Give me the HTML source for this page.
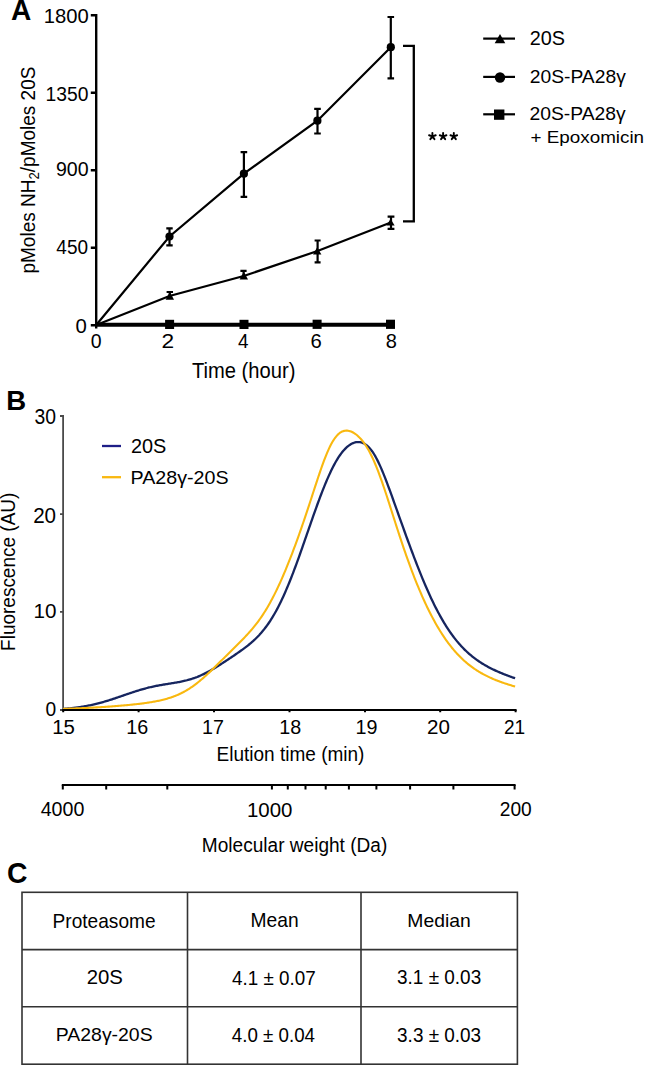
<!DOCTYPE html>
<html><head><meta charset="utf-8">
<style>
html,body{margin:0;padding:0;background:#fff;}
body{width:645px;height:1067px;overflow:hidden;}
svg{display:block;font-family:"Liberation Sans",sans-serif;}
text{font-family:"Liberation Sans",sans-serif;fill:#000;}
</style></head>
<body>
<svg width="645" height="1067" viewBox="0 0 645 1067">

<!-- PANEL A axes -->
<g stroke="#000" stroke-width="2.4" fill="none">
<line x1="96.2" y1="14" x2="96.2" y2="328.5"/>
<path d="M90.8,15.2H96M90.8,92.7H96M90.8,170.2H96M90.8,247.7H96M90.8,325.2H96"/>
<line x1="95" y1="325.2" x2="392" y2="325.2"/>
</g>
<g stroke="#000" stroke-width="2.2" fill="none">
<polyline points="96.2,325 169.5,236.5 243.9,173.7 317.4,120.7 390.8,47.2"/>
<polyline points="96.2,325 169.5,296 243.7,276 317.5,251 390.8,222.5"/>
</g>
<line x1="96.2" y1="324.6" x2="392" y2="324.6" stroke="#000" stroke-width="3.6"/>
<g stroke="#000" stroke-width="2.2" fill="none">
<path d="M169.5,228.4V245.4M166.3,228.4H172.7M166.3,245.4H172.7"/>
<path d="M243.9,152.2V196.9M240.6,152.2H247.2M240.6,196.9H247.2"/>
<path d="M317.5,108.9V133.5M314.2,108.9H320.8M314.2,133.5H320.8"/>
<path d="M390.8,17V78.3M387.5,17H394.1M387.5,78.3H394.1"/>
<path d="M169.8,292V298M166.6,292H173"/>
<path d="M243.6,270.9V278M240.4,270.9H246.6"/>
<path d="M317.6,240.5V262.3M314.6,240.5H320.6M314.6,262.3H320.6"/>
<path d="M391,216.6V228.9M387.6,216.6H394.4M387.6,228.9H394.4"/>
</g>
<g fill="#000">
<circle cx="169.5" cy="236.5" r="4.1"/>
<circle cx="243.9" cy="173.7" r="4.1"/>
<circle cx="317.4" cy="120.7" r="4.1"/>
<circle cx="390.8" cy="47.2" r="4.1"/>
<path d="M169.8,291.8L174,299.8L165.6,299.8Z"/>
<path d="M243.8,271.8L248,279.6L239.6,279.6Z"/>
<path d="M317.2,247.2L321.4,254.4L313,254.4Z"/>
<path d="M390.6,218.8L394.6,225.6L386.6,225.6Z"/>
<rect x="165.1" y="319.8" width="9" height="9.2"/>
<rect x="239.5" y="319.8" width="9" height="9.2"/>
<rect x="312.6" y="319.7" width="9" height="9.2"/>
<rect x="386" y="319.7" width="9" height="9.2"/>
</g>
<path d="M403,45.9H413.8V221.4H403" stroke="#000" stroke-width="2.3" fill="none"/>
<g stroke="#000" stroke-width="1.9" stroke-linecap="round" fill="none"><path d="M432.40,136.35L432.40,132.85M432.40,136.35L435.73,135.27M432.40,136.35L434.46,139.18M432.40,136.35L430.34,139.18M432.40,136.35L429.07,135.27"/><path d="M443.10,136.35L443.10,132.85M443.10,136.35L446.43,135.27M443.10,136.35L445.16,139.18M443.10,136.35L441.04,139.18M443.10,136.35L439.77,135.27"/><path d="M453.80,136.35L453.80,132.85M453.80,136.35L457.13,135.27M453.80,136.35L455.86,139.18M453.80,136.35L451.74,139.18M453.80,136.35L450.47,135.27"/></g>
<g stroke="#000" stroke-width="2.2">
<line x1="483.2" y1="38.6" x2="515" y2="38.6"/>
<line x1="483.2" y1="76.9" x2="515" y2="76.9"/>
<line x1="483.2" y1="114.3" x2="515" y2="114.3"/>
</g>
<g fill="#000">
<path d="M500,34L505.3,43.3L494.7,43.3Z"/>
<circle cx="500" cy="77.5" r="5.2"/>
<rect x="494" y="109.5" width="10.4" height="10.3"/>
</g>
<text id="ylabA" transform="translate(35.1,170.05) rotate(-90) scale(0.95,1)" font-size="20" text-anchor="middle">pMoles NH<tspan font-size="14" dy="4">2</tspan><tspan dy="-4">/pMoles 20S</tspan></text>

<!-- PANEL B -->
<g stroke="#4a4a4a" stroke-width="1.8" fill="none">
<line x1="63.1" y1="415" x2="63.1" y2="710.5"/>
<path d="M60,416H63M60,514.2H63M60,611.8H63M60,710H63"/>
</g>
<path d="M63.1,708.92 L64.1,708.85 L65.1,708.77 L66.1,708.69 L67.1,708.60 L68.1,708.51 L69.1,708.42 L70.1,708.32 L71.1,708.22 L72.1,708.11 L73.1,708.00 L74.1,707.88 L75.1,707.76 L76.1,707.63 L77.1,707.50 L78.1,707.36 L79.1,707.22 L80.1,707.07 L81.1,706.92 L82.1,706.76 L83.1,706.59 L84.1,706.42 L85.1,706.25 L86.1,706.06 L87.1,705.88 L88.1,705.68 L89.1,705.48 L90.1,705.28 L91.1,705.06 L92.1,704.85 L93.1,704.62 L94.1,704.39 L95.1,704.15 L96.1,703.91 L97.1,703.66 L98.1,703.41 L99.1,703.15 L100.1,702.88 L101.1,702.61 L102.1,702.33 L103.1,702.05 L104.1,701.76 L105.1,701.47 L106.1,701.17 L107.1,700.87 L108.1,700.56 L109.1,700.25 L110.1,699.93 L111.1,699.61 L112.1,699.29 L113.1,698.96 L114.1,698.63 L115.1,698.30 L116.1,697.96 L117.1,697.62 L118.1,697.28 L119.1,696.94 L120.1,696.59 L121.1,696.25 L122.1,695.90 L123.1,695.56 L124.1,695.21 L125.1,694.86 L126.1,694.52 L127.1,694.17 L128.1,693.83 L129.1,693.49 L130.1,693.15 L131.1,692.81 L132.1,692.48 L133.1,692.14 L134.1,691.82 L135.1,691.49 L136.1,691.17 L137.1,690.86 L138.1,690.55 L139.1,690.24 L140.1,689.94 L141.1,689.64 L142.1,689.35 L143.1,689.07 L144.1,688.79 L145.1,688.52 L146.1,688.25 L147.1,687.99 L148.1,687.74 L149.1,687.49 L150.1,687.25 L151.1,687.02 L152.1,686.79 L153.1,686.57 L154.1,686.36 L155.1,686.15 L156.1,685.95 L157.1,685.75 L158.1,685.56 L159.1,685.37 L160.1,685.19 L161.1,685.01 L162.1,684.84 L163.1,684.67 L164.1,684.50 L165.1,684.34 L166.1,684.18 L167.1,684.02 L168.1,683.86 L169.1,683.71 L170.1,683.55 L171.1,683.39 L172.1,683.23 L173.1,683.07 L174.1,682.91 L175.1,682.74 L176.1,682.57 L177.1,682.39 L178.1,682.21 L179.1,682.03 L180.1,681.83 L181.1,681.63 L182.1,681.42 L183.1,681.21 L184.1,680.98 L185.1,680.74 L186.1,680.50 L187.1,680.24 L188.1,679.97 L189.1,679.69 L190.1,679.40 L191.1,679.09 L192.1,678.77 L193.1,678.44 L194.1,678.10 L195.1,677.74 L196.1,677.36 L197.1,676.98 L198.1,676.57 L199.1,676.16 L200.1,675.73 L201.1,675.29 L202.1,674.83 L203.1,674.36 L204.1,673.88 L205.1,673.38 L206.1,672.87 L207.1,672.35 L208.1,671.81 L209.1,671.27 L210.1,670.71 L211.1,670.14 L212.1,669.57 L213.1,668.98 L214.1,668.39 L215.1,667.78 L216.1,667.17 L217.1,666.55 L218.1,665.93 L219.1,665.30 L220.1,664.66 L221.1,664.02 L222.1,663.38 L223.1,662.73 L224.1,662.08 L225.1,661.42 L226.1,660.77 L227.1,660.11 L228.1,659.44 L229.1,658.78 L230.1,658.11 L231.1,657.44 L232.1,656.77 L233.1,656.09 L234.1,655.42 L235.1,654.74 L236.1,654.05 L237.1,653.36 L238.1,652.67 L239.1,651.97 L240.1,651.27 L241.1,650.56 L242.1,649.84 L243.1,649.11 L244.1,648.37 L245.1,647.63 L246.1,646.86 L247.1,646.09 L248.1,645.30 L249.1,644.49 L250.1,643.67 L251.1,642.82 L252.1,641.96 L253.1,641.07 L254.1,640.16 L255.1,639.22 L256.1,638.26 L257.1,637.27 L258.1,636.24 L259.1,635.19 L260.1,634.09 L261.1,632.97 L262.1,631.81 L263.1,630.60 L264.1,629.36 L265.1,628.08 L266.1,626.76 L267.1,625.39 L268.1,623.97 L269.1,622.52 L270.1,621.01 L271.1,619.45 L272.1,617.85 L273.1,616.20 L274.1,614.50 L275.1,612.75 L276.1,610.94 L277.1,609.09 L278.1,607.18 L279.1,605.23 L280.1,603.22 L281.1,601.16 L282.1,599.06 L283.1,596.90 L284.1,594.69 L285.1,592.44 L286.1,590.14 L287.1,587.79 L288.1,585.40 L289.1,582.96 L290.1,580.48 L291.1,577.96 L292.1,575.41 L293.1,572.81 L294.1,570.18 L295.1,567.51 L296.1,564.81 L297.1,562.09 L298.1,559.33 L299.1,556.55 L300.1,553.75 L301.1,550.93 L302.1,548.08 L303.1,545.23 L304.1,542.36 L305.1,539.48 L306.1,536.60 L307.1,533.71 L308.1,530.82 L309.1,527.93 L310.1,525.05 L311.1,522.17 L312.1,519.31 L313.1,516.46 L314.1,513.62 L315.1,510.81 L316.1,508.02 L317.1,505.25 L318.1,502.51 L319.1,499.80 L320.1,497.13 L321.1,494.50 L322.1,491.90 L323.1,489.35 L324.1,486.85 L325.1,484.39 L326.1,481.99 L327.1,479.63 L328.1,477.34 L329.1,475.10 L330.1,472.93 L331.1,470.82 L332.1,468.77 L333.1,466.80 L334.1,464.89 L335.1,463.05 L336.1,461.29 L337.1,459.60 L338.1,457.98 L339.1,456.44 L340.1,454.98 L341.1,453.60 L342.1,452.29 L343.1,451.07 L344.1,449.92 L345.1,448.85 L346.1,447.86 L347.1,446.95 L348.1,446.11 L349.1,445.36 L350.1,444.68 L351.1,444.08 L352.1,443.55 L353.1,443.10 L354.1,442.73 L355.1,442.44 L356.1,442.23 L357.1,442.09 L358.1,442.04 L359.1,442.07 L360.1,442.18 L361.1,442.39 L362.1,442.68 L363.1,443.07 L364.1,443.55 L365.1,444.13 L366.1,444.82 L367.1,445.61 L368.1,446.51 L369.1,447.51 L370.1,448.64 L371.1,449.87 L372.1,451.22 L373.1,452.68 L374.1,454.25 L375.1,455.94 L376.1,457.73 L377.1,459.63 L378.1,461.62 L379.1,463.71 L380.1,465.89 L381.1,468.16 L382.1,470.50 L383.1,472.91 L384.1,475.38 L385.1,477.92 L386.1,480.50 L387.1,483.13 L388.1,485.80 L389.1,488.49 L390.1,491.22 L391.1,493.97 L392.1,496.73 L393.1,499.51 L394.1,502.30 L395.1,505.10 L396.1,507.90 L397.1,510.70 L398.1,513.51 L399.1,516.31 L400.1,519.11 L401.1,521.90 L402.1,524.69 L403.1,527.47 L404.1,530.25 L405.1,533.01 L406.1,535.77 L407.1,538.51 L408.1,541.24 L409.1,543.96 L410.1,546.66 L411.1,549.35 L412.1,552.02 L413.1,554.68 L414.1,557.31 L415.1,559.93 L416.1,562.52 L417.1,565.09 L418.1,567.64 L419.1,570.16 L420.1,572.66 L421.1,575.13 L422.1,577.57 L423.1,579.99 L424.1,582.37 L425.1,584.72 L426.1,587.04 L427.1,589.33 L428.1,591.59 L429.1,593.81 L430.1,596.00 L431.1,598.15 L432.1,600.27 L433.1,602.35 L434.1,604.39 L435.1,606.40 L436.1,608.37 L437.1,610.31 L438.1,612.20 L439.1,614.06 L440.1,615.89 L441.1,617.67 L442.1,619.42 L443.1,621.13 L444.1,622.81 L445.1,624.45 L446.1,626.05 L447.1,627.61 L448.1,629.14 L449.1,630.64 L450.1,632.10 L451.1,633.52 L452.1,634.91 L453.1,636.26 L454.1,637.59 L455.1,638.88 L456.1,640.13 L457.1,641.36 L458.1,642.55 L459.1,643.71 L460.1,644.85 L461.1,645.95 L462.1,647.02 L463.1,648.07 L464.1,649.09 L465.1,650.08 L466.1,651.04 L467.1,651.98 L468.1,652.89 L469.1,653.78 L470.1,654.65 L471.1,655.49 L472.1,656.31 L473.1,657.11 L474.1,657.88 L475.1,658.64 L476.1,659.38 L477.1,660.09 L478.1,660.79 L479.1,661.47 L480.1,662.14 L481.1,662.78 L482.1,663.41 L483.1,664.03 L484.1,664.63 L485.1,665.21 L486.1,665.78 L487.1,666.34 L488.1,666.89 L489.1,667.42 L490.1,667.94 L491.1,668.45 L492.1,668.95 L493.1,669.43 L494.1,669.91 L495.1,670.38 L496.1,670.84 L497.1,671.29 L498.1,671.73 L499.1,672.16 L500.1,672.59 L501.1,673.01 L502.1,673.42 L503.1,673.82 L504.1,674.22 L505.1,674.62 L506.1,675.00 L507.1,675.38 L508.1,675.76 L509.1,676.13 L510.1,676.50 L511.1,676.86 L512.1,677.22 L513.1,677.57 L514.1,677.92 L515.1,678.27" stroke="#16255F" stroke-width="2.3" fill="none"/>
<path d="M63.1,708.88 L64.1,708.85 L65.1,708.81 L66.1,708.78 L67.1,708.74 L68.1,708.71 L69.1,708.67 L70.1,708.64 L71.1,708.60 L72.1,708.56 L73.1,708.52 L74.1,708.48 L75.1,708.44 L76.1,708.40 L77.1,708.36 L78.1,708.32 L79.1,708.28 L80.1,708.23 L81.1,708.19 L82.1,708.14 L83.1,708.10 L84.1,708.05 L85.1,708.00 L86.1,707.95 L87.1,707.90 L88.1,707.85 L89.1,707.80 L90.1,707.75 L91.1,707.70 L92.1,707.64 L93.1,707.59 L94.1,707.53 L95.1,707.48 L96.1,707.42 L97.1,707.36 L98.1,707.30 L99.1,707.24 L100.1,707.18 L101.1,707.12 L102.1,707.06 L103.1,706.99 L104.1,706.93 L105.1,706.86 L106.1,706.80 L107.1,706.73 L108.1,706.66 L109.1,706.59 L110.1,706.52 L111.1,706.44 L112.1,706.37 L113.1,706.30 L114.1,706.22 L115.1,706.14 L116.1,706.06 L117.1,705.99 L118.1,705.90 L119.1,705.82 L120.1,705.74 L121.1,705.65 L122.1,705.57 L123.1,705.48 L124.1,705.39 L125.1,705.30 L126.1,705.21 L127.1,705.11 L128.1,705.02 L129.1,704.92 L130.1,704.82 L131.1,704.72 L132.1,704.62 L133.1,704.52 L134.1,704.41 L135.1,704.30 L136.1,704.19 L137.1,704.08 L138.1,703.96 L139.1,703.84 L140.1,703.72 L141.1,703.60 L142.1,703.47 L143.1,703.34 L144.1,703.21 L145.1,703.07 L146.1,702.93 L147.1,702.79 L148.1,702.64 L149.1,702.49 L150.1,702.33 L151.1,702.17 L152.1,702.00 L153.1,701.83 L154.1,701.65 L155.1,701.46 L156.1,701.27 L157.1,701.08 L158.1,700.87 L159.1,700.66 L160.1,700.44 L161.1,700.22 L162.1,699.98 L163.1,699.74 L164.1,699.48 L165.1,699.22 L166.1,698.94 L167.1,698.66 L168.1,698.36 L169.1,698.06 L170.1,697.74 L171.1,697.40 L172.1,697.06 L173.1,696.70 L174.1,696.33 L175.1,695.94 L176.1,695.54 L177.1,695.12 L178.1,694.69 L179.1,694.24 L180.1,693.77 L181.1,693.29 L182.1,692.78 L183.1,692.27 L184.1,691.73 L185.1,691.18 L186.1,690.60 L187.1,690.01 L188.1,689.40 L189.1,688.77 L190.1,688.13 L191.1,687.46 L192.1,686.78 L193.1,686.08 L194.1,685.35 L195.1,684.62 L196.1,683.86 L197.1,683.09 L198.1,682.29 L199.1,681.49 L200.1,680.66 L201.1,679.82 L202.1,678.97 L203.1,678.10 L204.1,677.22 L205.1,676.32 L206.1,675.41 L207.1,674.49 L208.1,673.56 L209.1,672.62 L210.1,671.67 L211.1,670.71 L212.1,669.75 L213.1,668.78 L214.1,667.80 L215.1,666.82 L216.1,665.83 L217.1,664.84 L218.1,663.85 L219.1,662.86 L220.1,661.86 L221.1,660.87 L222.1,659.87 L223.1,658.87 L224.1,657.88 L225.1,656.88 L226.1,655.89 L227.1,654.90 L228.1,653.91 L229.1,652.92 L230.1,651.93 L231.1,650.95 L232.1,649.96 L233.1,648.97 L234.1,647.99 L235.1,647.00 L236.1,646.01 L237.1,645.02 L238.1,644.03 L239.1,643.03 L240.1,642.03 L241.1,641.02 L242.1,640.00 L243.1,638.97 L244.1,637.94 L245.1,636.89 L246.1,635.83 L247.1,634.75 L248.1,633.66 L249.1,632.55 L250.1,631.42 L251.1,630.27 L252.1,629.10 L253.1,627.91 L254.1,626.69 L255.1,625.44 L256.1,624.16 L257.1,622.86 L258.1,621.52 L259.1,620.15 L260.1,618.75 L261.1,617.32 L262.1,615.84 L263.1,614.34 L264.1,612.79 L265.1,611.20 L266.1,609.58 L267.1,607.92 L268.1,606.21 L269.1,604.47 L270.1,602.68 L271.1,600.85 L272.1,598.98 L273.1,597.07 L274.1,595.12 L275.1,593.13 L276.1,591.10 L277.1,589.02 L278.1,586.91 L279.1,584.76 L280.1,582.56 L281.1,580.33 L282.1,578.07 L283.1,575.76 L284.1,573.42 L285.1,571.05 L286.1,568.64 L287.1,566.20 L288.1,563.72 L289.1,561.22 L290.1,558.68 L291.1,556.11 L292.1,553.51 L293.1,550.88 L294.1,548.22 L295.1,545.53 L296.1,542.82 L297.1,540.07 L298.1,537.30 L299.1,534.50 L300.1,531.67 L301.1,528.81 L302.1,525.93 L303.1,523.02 L304.1,520.09 L305.1,517.13 L306.1,514.15 L307.1,511.15 L308.1,508.12 L309.1,505.08 L310.1,502.03 L311.1,498.96 L312.1,495.88 L313.1,492.80 L314.1,489.72 L315.1,486.65 L316.1,483.59 L317.1,480.55 L318.1,477.54 L319.1,474.56 L320.1,471.62 L321.1,468.73 L322.1,465.90 L323.1,463.13 L324.1,460.44 L325.1,457.83 L326.1,455.32 L327.1,452.90 L328.1,450.59 L329.1,448.39 L330.1,446.31 L331.1,444.35 L332.1,442.52 L333.1,440.83 L334.1,439.27 L335.1,437.84 L336.1,436.55 L337.1,435.39 L338.1,434.37 L339.1,433.47 L340.1,432.71 L341.1,432.07 L342.1,431.56 L343.1,431.16 L344.1,430.87 L345.1,430.69 L346.1,430.60 L347.1,430.62 L348.1,430.73 L349.1,430.93 L350.1,431.21 L351.1,431.57 L352.1,432.00 L353.1,432.52 L354.1,433.11 L355.1,433.77 L356.1,434.50 L357.1,435.30 L358.1,436.18 L359.1,437.13 L360.1,438.16 L361.1,439.27 L362.1,440.45 L363.1,441.72 L364.1,443.06 L365.1,444.50 L366.1,446.02 L367.1,447.62 L368.1,449.32 L369.1,451.11 L370.1,452.99 L371.1,454.96 L372.1,457.03 L373.1,459.18 L374.1,461.42 L375.1,463.74 L376.1,466.15 L377.1,468.64 L378.1,471.21 L379.1,473.85 L380.1,476.56 L381.1,479.33 L382.1,482.17 L383.1,485.05 L384.1,487.99 L385.1,490.97 L386.1,493.98 L387.1,497.03 L388.1,500.11 L389.1,503.21 L390.1,506.33 L391.1,509.45 L392.1,512.59 L393.1,515.72 L394.1,518.86 L395.1,521.98 L396.1,525.10 L397.1,528.21 L398.1,531.29 L399.1,534.36 L400.1,537.40 L401.1,540.42 L402.1,543.42 L403.1,546.38 L404.1,549.31 L405.1,552.21 L406.1,555.08 L407.1,557.92 L408.1,560.72 L409.1,563.48 L410.1,566.21 L411.1,568.90 L412.1,571.56 L413.1,574.18 L414.1,576.76 L415.1,579.30 L416.1,581.81 L417.1,584.28 L418.1,586.71 L419.1,589.10 L420.1,591.46 L421.1,593.78 L422.1,596.07 L423.1,598.31 L424.1,600.52 L425.1,602.70 L426.1,604.83 L427.1,606.93 L428.1,608.99 L429.1,611.02 L430.1,613.01 L431.1,614.97 L432.1,616.88 L433.1,618.77 L434.1,620.61 L435.1,622.42 L436.1,624.20 L437.1,625.94 L438.1,627.64 L439.1,629.31 L440.1,630.95 L441.1,632.55 L442.1,634.12 L443.1,635.65 L444.1,637.15 L445.1,638.61 L446.1,640.05 L447.1,641.45 L448.1,642.81 L449.1,644.15 L450.1,645.45 L451.1,646.72 L452.1,647.97 L453.1,649.18 L454.1,650.36 L455.1,651.51 L456.1,652.64 L457.1,653.73 L458.1,654.80 L459.1,655.84 L460.1,656.86 L461.1,657.85 L462.1,658.81 L463.1,659.75 L464.1,660.66 L465.1,661.55 L466.1,662.41 L467.1,663.26 L468.1,664.08 L469.1,664.88 L470.1,665.66 L471.1,666.41 L472.1,667.15 L473.1,667.87 L474.1,668.57 L475.1,669.25 L476.1,669.91 L477.1,670.56 L478.1,671.19 L479.1,671.80 L480.1,672.39 L481.1,672.98 L482.1,673.54 L483.1,674.09 L484.1,674.63 L485.1,675.16 L486.1,675.67 L487.1,676.17 L488.1,676.65 L489.1,677.13 L490.1,677.59 L491.1,678.05 L492.1,678.49 L493.1,678.92 L494.1,679.35 L495.1,679.76 L496.1,680.17 L497.1,680.56 L498.1,680.95 L499.1,681.33 L500.1,681.70 L501.1,682.07 L502.1,682.42 L503.1,682.77 L504.1,683.12 L505.1,683.46 L506.1,683.79 L507.1,684.11 L508.1,684.43 L509.1,684.75 L510.1,685.06 L511.1,685.36 L512.1,685.66 L513.1,685.96 L514.1,686.25 L515.1,686.53" stroke="#F9B80F" stroke-width="2.1" fill="none"/>
<g stroke="#000" stroke-width="2" fill="none">
<line x1="62.2" y1="709.9" x2="516.6" y2="709.9"/>
<path d="M63.2,710V712.2M138.6,710V712.2M214,710V712.2M289.5,710V712.2M365,710V712.2M440.2,710V712.2M515.6,710V712.2"/>
</g>
<text id="ylabB" transform="translate(14.9,571.8) rotate(-90) scale(1,1.076)" font-size="19" text-anchor="middle">Fluorescence (AU)</text>
<line x1="102" y1="446" x2="121" y2="446" stroke="#1E1E87" stroke-width="2.3"/>
<line x1="102" y1="477.2" x2="121" y2="477.2" stroke="#F9B80F" stroke-width="2.3"/>
<g stroke="#000" stroke-width="2" fill="none">
<line x1="61.8" y1="784.9" x2="515.6" y2="784.9"/>
<path d="M62.8,784.9V789.6M106.2,784.9V789.6M167.3,784.9V789.6M271.9,784.9V789.6M287.8,784.9V789.6M305.5,784.9V789.6M325.7,784.9V789.6M348.9,784.9V789.6M376.4,784.9V789.6M410.1,784.9V789.6M453.4,784.9V789.6M514.6,784.9V789.6"/>
</g>

<!-- PANEL C -->
<g stroke="#333" stroke-width="1.6" fill="none">
<rect x="22" y="892.3" width="495.4" height="171.9"/>
<line x1="22" y1="949.6" x2="517.4" y2="949.6"/>
<line x1="22" y1="1006.7" x2="517.4" y2="1006.7"/>
<line x1="187.5" y1="892.3" x2="187.5" y2="1064.2"/>
<line x1="361" y1="892.3" x2="361" y2="1064.2"/>
</g>

<text id="tA" x="10.5" y="20.7" font-size="28" font-weight="bold" transform="matrix(1.0039,0,0,1.0526,0.37,-1.61)">A</text>
<text id="y1800" x="88.5" y="23" font-size="20" text-anchor="end" transform="matrix(1.0114,0,0,1.0114,-0.83,-0.26)">1800</text>
<text id="y1350" x="88.5" y="100.7" font-size="20" text-anchor="end" transform="matrix(0.9648,0,0,0.9648,3.08,3.55)">1350</text>
<text id="y900" x="88.5" y="176.2" font-size="20" text-anchor="end" transform="matrix(0.9795,0,0,0.9931,1.97,1.21)">900</text>
<text id="y450" x="88.5" y="253.8" font-size="20" text-anchor="end" transform="matrix(0.9493,0,0,1.0071,4.02,-1.91)">450</text>
<text id="y0" x="87" y="332.6" font-size="20" text-anchor="end" transform="matrix(1.0179,0,0,0.9888,-1.72,3.93)">0</text>
<text id="x0" x="96.2" y="348.2" font-size="20" text-anchor="middle" transform="matrix(0.9752,0,0,1.0491,2.31,-17.49)">0</text>
<text id="x2" x="168" y="348.2" font-size="20" text-anchor="middle" transform="matrix(1.1369,0,0,1.0144,-23.15,-4.82)">2</text>
<text id="x4" x="243.2" y="348.2" font-size="20" text-anchor="middle" transform="matrix(0.9449,0,0,1.0064,13.50,-2.26)">4</text>
<text id="x6" x="316.3" y="348.2" font-size="20" text-anchor="middle" transform="matrix(1.0135,0,0,1.0152,-4.49,-5.07)">6</text>
<text id="x8" x="391.5" y="348.2" font-size="20" text-anchor="middle" transform="matrix(1.0030,0,0,1.0143,-1.32,-4.77)">8</text>
<text id="time" x="243.5" y="378" font-size="20" text-anchor="middle" transform="matrix(1.0079,0,0,1.0811,-1.73,-30.68)">Time (hour)</text>
<text id="l20S" x="529" y="44.8" font-size="20" transform="matrix(0.9911,0,0,0.9858,5.36,0.64)">20S</text>
<text id="lPA1" x="529" y="84.2" font-size="20" transform="matrix(0.9648,0,0,0.9175,19.34,5.98)">20S-PA28γ</text>
<text id="lPA2" x="529" y="120.4" font-size="20" transform="matrix(0.9644,0,0,0.9354,19.32,7.15)">20S-PA28γ</text>
<text id="lEp" x="529" y="142.9" font-size="20" transform="matrix(0.9420,0,0,0.8338,32.22,23.95)">+ Epoxomicin</text>
<text id="tB" x="7" y="410.4" font-size="28" font-weight="bold" transform="matrix(0.9847,0,0,1.0112,-0.68,-4.96)">B</text>
<text id="b30" x="55.5" y="423.4" font-size="20" text-anchor="end" transform="matrix(0.9674,0,0,1.0882,2.29,-37.11)">30</text>
<text id="b20" x="55.5" y="522.5" font-size="20" text-anchor="end" transform="matrix(1.0305,0,0,1.1031,-1.11,-53.50)">20</text>
<text id="b10" x="55.5" y="618.3" font-size="20" text-anchor="end" transform="matrix(1.0331,0,0,1.0331,-0.86,-20.69)">10</text>
<text id="b0" x="55.5" y="716" font-size="20" text-anchor="end" transform="matrix(0.9593,0,0,1.0304,2.87,-21.76)">0</text>
<text id="b15" x="64" y="733.8" font-size="20" text-anchor="middle" transform="matrix(1.0214,0,0,1.0214,-1.78,-15.93)">15</text>
<text id="b16" x="137.6" y="733.8" font-size="20" text-anchor="middle" transform="matrix(0.9861,0,0,0.9861,1.55,9.98)">16</text>
<text id="b17" x="213.2" y="733.8" font-size="20" text-anchor="middle" transform="matrix(0.9857,0,0,0.9857,2.73,10.29)">17</text>
<text id="b18" x="290.7" y="733.8" font-size="20" text-anchor="middle" transform="matrix(0.9857,0,0,0.9857,3.77,10.29)">18</text>
<text id="b19" x="366.8" y="733.8" font-size="20" text-anchor="middle" transform="matrix(0.9857,0,0,0.9857,4.87,10.29)">19</text>
<text id="b20x" x="438.6" y="733.8" font-size="20" text-anchor="middle" transform="matrix(1.0292,0,0,0.9859,-12.96,10.18)">20</text>
<text id="b21" x="514.7" y="733.8" font-size="20" text-anchor="middle" transform="matrix(0.9545,0,0,0.9857,23.28,10.29)">21</text>
<text id="elu" x="290.7" y="760.8" font-size="19" text-anchor="middle" transform="matrix(1.0009,0,0,1.0696,-0.47,-52.74)">Elution time (min)</text>
<text id="bl20S" x="131" y="452.8" font-size="20" transform="matrix(0.9949,0,0,0.9786,0.55,9.51)">20S</text>
<text id="blPA" x="131" y="484.3" font-size="20" transform="matrix(0.9841,0,0,0.9068,1.67,45.00)">PA28γ-20S</text>
<text id="m4000" x="62.5" y="816.4" font-size="20" text-anchor="middle" transform="matrix(0.9824,0,0,1.0453,1.13,-37.16)">4000</text>
<text id="m1000" x="270.5" y="816.4" font-size="20" text-anchor="middle" transform="matrix(1.0232,0,0,1.0232,-7.06,-18.56)">1000</text>
<text id="m200" x="516" y="816.4" font-size="20" text-anchor="middle" transform="matrix(0.9596,0,0,1.0436,20.60,-35.80)">200</text>
<text id="mw" x="295" y="851.7" font-size="19" text-anchor="middle" transform="matrix(1.0033,0,0,1.0715,-1.40,-61.04)">Molecular weight (Da)</text>
<text id="tC" x="7" y="883" font-size="28" font-weight="bold" transform="matrix(1.0127,0,0,1.0632,-0.14,-55.87)">C</text>
<text id="cP" x="104.6" y="927.6" font-size="18.5" text-anchor="middle" transform="matrix(1.0328,0,0,1.0924,-3.94,-85.51)">Proteasome</text>
<text id="cMean" x="274.8" y="927.6" font-size="18.5" text-anchor="middle" transform="matrix(1.0404,0,0,1.1000,-11.36,-93.20)">Mean</text>
<text id="cMed" x="439.2" y="927.4" font-size="18.5" text-anchor="middle" transform="matrix(1.0463,0,0,0.9933,-20.50,6.02)">Median</text>
<text id="c20S" x="104.9" y="984.5" font-size="18.5" text-anchor="middle" transform="matrix(1.0992,0,0,1.1000,-10.53,-99.00)">20S</text>
<text id="c41" x="273.4" y="984.7" font-size="18.5" text-anchor="middle" transform="matrix(1.0181,0,0,1.0924,-4.53,-90.57)">4.1 ± 0.07</text>
<text id="c31" x="439.1" y="984.5" font-size="18.5" text-anchor="middle" transform="matrix(1.0240,0,0,1.0773,-10.51,-76.59)">3.1 ± 0.03</text>
<text id="cPA" x="104.6" y="1042.1" font-size="18.5" text-anchor="middle" transform="matrix(1.0509,0,0,0.9903,-5.69,9.17)">PA28γ-20S</text>
<text id="c40" x="273.4" y="1041.9" font-size="18.5" text-anchor="middle" transform="matrix(1.0125,0,0,1.0776,-3.39,-80.94)">4.0 ± 0.04</text>
<text id="c33" x="439.1" y="1041.9" font-size="18.5" text-anchor="middle" transform="matrix(1.0240,0,0,1.0769,-10.51,-80.25)">3.3 ± 0.03</text>
</svg>
</body></html>
